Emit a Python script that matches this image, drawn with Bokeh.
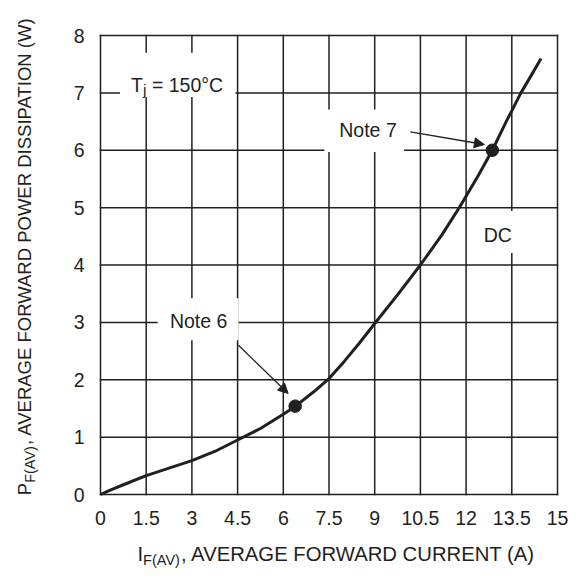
import math
from bokeh.plotting import figure
from bokeh.models import Label, Arrow, NormalHead, BoxAnnotation, Range1d
from bokeh.embed import file_html
from bokeh.resources import INLINE

# ---------------- data ----------------
current_a = [0, 0.3, 0.75, 1.5, 2.25, 3, 3.75, 4.5, 5.25, 6, 6.4, 7, 7.5, 8,
             8.5, 9, 9.75, 10.5, 11.2, 11.8, 12.4, 12.86, 13.3, 13.8, 14.1, 14.46]
power_w = [0, 0.07, 0.17, 0.33, 0.46, 0.59, 0.75, 0.95, 1.15, 1.40, 1.54, 1.79, 2.02, 2.32,
           2.64, 2.98, 3.48, 4.0, 4.52, 5.02, 5.56, 6.0, 6.48, 7.0, 7.27, 7.6]

note_x = [6.39, 12.86]
note_y = [1.54, 6.0]

x_ticks = [0, 1.5, 3, 4.5, 6, 7.5, 9, 10.5, 12, 13.5, 15]
x_tick_labels = ["0", "1.5", "3", "4.5", "6", "7.5", "9", "10.5", "12", "13.5", "15"]
y_ticks = [0, 1, 2, 3, 4, 5, 6, 7, 8]
y_tick_labels = ["0", "1", "2", "3", "4", "5", "6", "7", "8"]

# ---------------- layout (pixels) ----------------
W, H = 570, 568
FL, FR, FT, FB = 100, 557, 35, 494      # plotting box inside the canvas
X0, X1 = x_ticks[0], x_ticks[-1]
Y0, Y1 = y_ticks[0], y_ticks[-1]
PPX = (FR - FL) / (X1 - X0)
PPY = (FB - FT) / (Y1 - Y0)
INK = "#231f20"
FONT = "Liberation Sans"

def dx(px):
    return px / PPX

def dy(px):
    return px / PPY

ARIAL = {'A': .667, 'V': .667, 'E': .667, 'R': .722, 'G': .778, ' ': .278, 'F': .611,
         'O': .778, 'W': .944, 'D': .722, 'P': .667, 'S': .667, 'I': .278, 'T': .611,
         'N': .722, '(': .333, ')': .333, ',': .278, 'C': .722, 'U': .722, 'j': .222,
         '=': .584, '1': .556, '5': .556, '0': .556, '°': .4}

def tw(s, size):
    return sum(ARIAL.get(c, .6) for c in s) * size

p = figure(width=W, height=H,
           x_range=Range1d(X0 - dx(FL), X1 + dx(W - FR)),
           y_range=Range1d(Y0 - dy(H - FB), Y1 + dy(FT)),
           output_backend="svg", toolbar_location=None,
           min_border=0, min_border_left=0, min_border_right=0,
           min_border_top=0, min_border_bottom=0)
p.background_fill_color = "white"
p.border_fill_color = "white"
p.outline_line_color = None
p.grid.visible = False

p.xaxis.fixed_location = Y0
p.yaxis.fixed_location = X0
p.xaxis.ticker = x_ticks
p.yaxis.ticker = y_ticks
p.xaxis.major_label_overrides = {t: l for t, l in zip(x_ticks, x_tick_labels)}
p.yaxis.major_label_overrides = {t: l for t, l in zip(y_ticks, y_tick_labels)}
for ax in (p.xaxis[0], p.yaxis[0]):
    ax.axis_line_color = None
    ax.major_tick_line_color = None
    ax.minor_tick_line_color = None
    ax.major_tick_out = 0
    ax.major_tick_in = 0
    ax.major_label_text_font = FONT
    ax.major_label_text_font_size = "19.5px"
    ax.major_label_text_color = INK
p.xaxis.major_label_standoff = 16
p.yaxis.major_label_standoff = 16

# grid lines (at every tick) including the border
nx, ny = len(x_ticks), len(y_ticks)
p.segment(x0=x_ticks, y0=[Y0] * nx, x1=x_ticks, y1=[Y1] * nx,
          line_color=INK, line_width=1.5, line_cap="square")
p.segment(x0=[X0] * ny, y0=y_ticks, x1=[X1] * ny, y1=y_ticks,
          line_color=INK, line_width=1.5, line_cap="square")

# white masks behind annotation texts
masks = [(0.64, 4.43, 6.93, 7.70), (1.88, 4.53, 2.69, 3.42),
         (7.35, 9.96, 5.97, 6.71), (12.40, 13.75, 4.21, 4.94)]
for l, r, b, t in masks:
    p.add_layout(BoxAnnotation(left=l, right=r, bottom=b, top=t, fill_color="white",
                               fill_alpha=1.0, line_color=None, line_alpha=0))

p.line(current_a, power_w, line_width=3, line_color=INK, line_join="round")
p.scatter(note_x, note_y, size=12.5, fill_color=INK, line_color=INK)

def arrow(xs, ys, xe, ye):
    p.add_layout(Arrow(end=NormalHead(size=10, fill_color=INK, line_color=INK, line_width=1),
                       x_start=xs, y_start=ys, x_end=xe, y_end=ye,
                       line_color=INK, line_width=1.3))

arrow(4.53, 2.60, 6.16, 1.76)
arrow(10.17, 6.32, 12.60, 6.10)

def lab(x, y, text, size, align="left", baseline="alphabetic", angle=0.0):
    p.add_layout(Label(x=x, y=y, text=text, text_font=FONT, text_font_size=f"{size}px",
                       text_color=INK, text_align=align, text_baseline=baseline, angle=angle))

lab(3.22, 3.03, "Note 6", 19.5, "center", "middle")
lab(8.78, 6.36, "Note 7", 19.5, "center", "middle")
lab(13.04, 4.53, "DC", 19.5, "center", "middle")

# T_j = 150°C
tx, ty = 1.005, 7.14
lab(tx, ty, "T", 19.5)
lab(tx + dx(tw("T", 19.5)), ty - dy(5), "j", 15.5)
lab(tx + dx(tw("T", 19.5) + tw("j", 15.5) + tw(" ", 19.5)), ty, "= 150°C", 19.5)

# x axis title: I_F(AV), AVERAGE FORWARD CURRENT (A)
XT = 20.3
sx, sy = 1.213, -1.045
lab(sx, sy, "I", XT)
lab(sx + dx(tw("I", XT)), sy - dy(6), "F(AV)", 14.5)
lab(sx + dx(tw("I", XT) + tw("F(AV)", 14.5)), sy, ", AVERAGE FORWARD CURRENT (A)", XT)

# y axis title: P_F(AV), AVERAGE FORWARD POWER DISSIPATION (W)
vx, vy = -2.489, -0.012
a = math.pi / 2
lab(vx, vy, "P", 18.5, angle=a)
lab(vx + dx(5), vy + dy(tw("P", 18.5)), "F(AV)", 14.5, angle=a)
lab(vx, vy + dy(tw("P", 18.5) + tw("F(AV)", 14.5)),
    ", AVERAGE FORWARD POWER DISSIPATION (W)", 18.5, angle=a)

open("out.html", "w").write(file_html(p, INLINE))
